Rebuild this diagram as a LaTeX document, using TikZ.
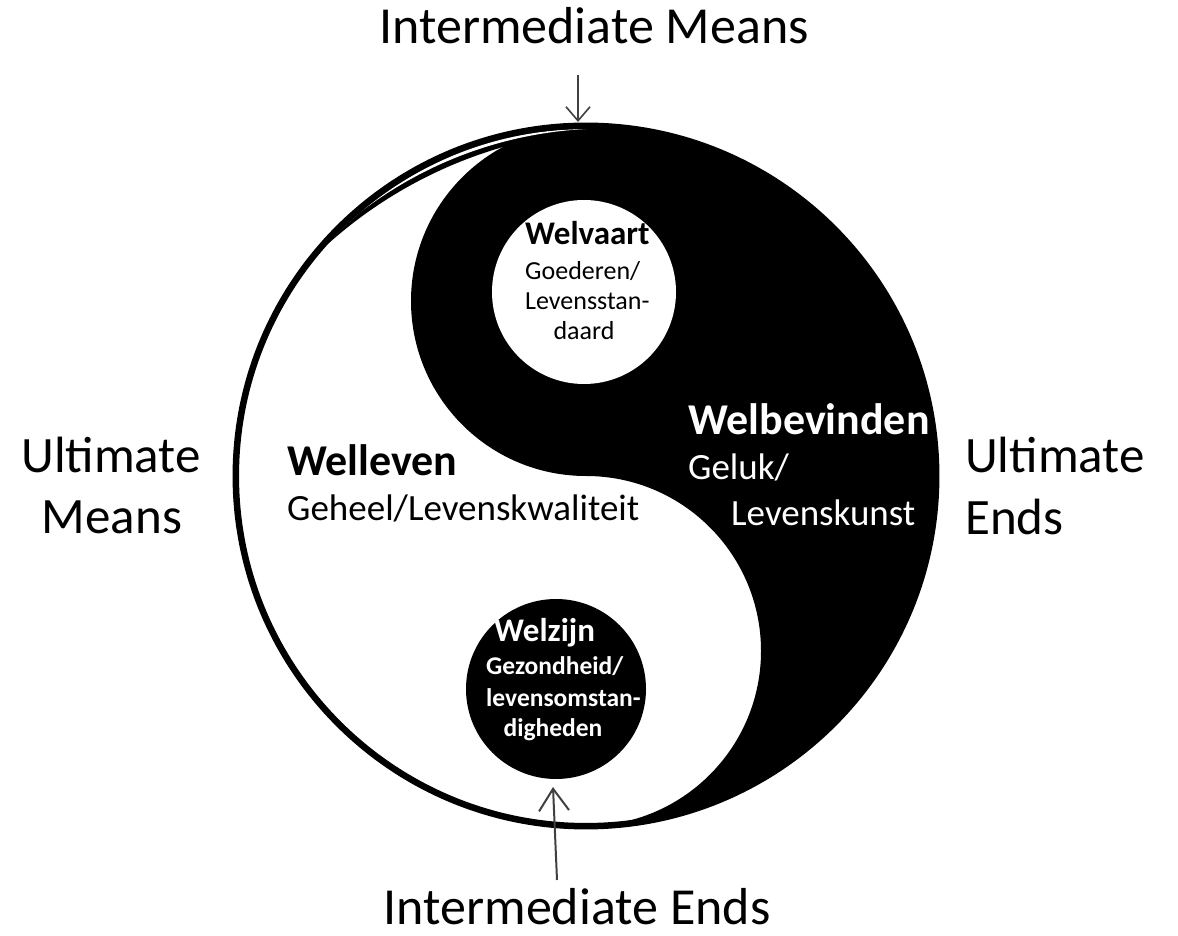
\documentclass[tikz,border=0pt]{standalone}
\usepackage{fontspec}
\setmainfont{Carlito}
\usetikzlibrary{arrows.meta}
\begin{document}
\begin{tikzpicture}[x=1pt,y=1pt,
  outer/.style={font=\fontsize{51}{60}\selectfont, inner sep=0pt},
  inter/.style={font=\fontsize{52}{60}\selectfont, inner sep=0pt},
  head/.style={font=\bfseries\fontsize{44}{52}\selectfont, inner sep=0pt},
  sub/.style={font=\fontsize{37}{44}\selectfont, inner sep=0pt},
  dothead/.style={font=\bfseries\fontsize{33}{38}\selectfont, inner sep=0pt},
  dotsub/.style={font=\fontsize{26}{30}\selectfont, inner sep=0pt},
  dotsubb/.style={font=\bfseries\fontsize{25.5}{30}\selectfont, inner sep=0pt},
  pointer/.style={draw=black!75, line width=1.6pt, -{Straight Barb[length=14pt,width=24pt]}},
]
\useasboundingbox (0,0) rectangle (1178,935);

% black half of the symbol
\fill (586,809) arc[start angle=90,end angle=-90,radius=350]
  arc[start angle=-90,end angle=90,radius=175]
  arc[start angle=-90,end angle=-270,radius=175] -- cycle;

% the two eyes
\fill[white] (584,643) circle[radius=92];
\fill (556,246) circle[radius=90];

% doubled edge at the upper left: a thin black crescent with a white slit
\fill (610.2,805.2) arc[start angle=86,end angle=138,radius=347]
  arc[start angle=131.84,end angle=92.16,radius=448.2] -- cycle;
\fill[white] (586,806) arc[start angle=90,end angle=130,radius=347]
  arc[start angle=127.14,end angle=92.85,radius=402.5] -- cycle;

% outer ring
\draw[line width=6.5pt] (586,459) circle[radius=350.2];

% outer labels
\node[inter,anchor=base] (imeans) at (594,891) {Intermediate Means};
\node[inter,anchor=base] (iends) at (577,11) {Intermediate Ends};
\node[outer,anchor=base] (umeans1) at (111,462) {Ultimate};
\node[outer,anchor=base] (umeans2) at (112,401) {Means};
\node[outer,anchor=base west] (uends1) at (965,462) {Ultimate};
\node[outer,anchor=base west] (uends2) at (965,400) {Ends};

% pointers to the symbol
\coordinate (mtail) at (578,860);
\coordinate (mtip) at (578,813);
\draw[pointer] (mtail) -- (mtip);
\coordinate (etail) at (557,55);
\coordinate (etip) at (553,148);
\draw[pointer,line width=2pt,-{Straight Barb[length=22pt,width=30pt]}] (etail) -- (etip);

% white half
\node[head,anchor=base west] (welleven) at (287,459) {Welleven};
\node[sub,anchor=base west] (geheel) at (287,414) {Geheel/Levenskwaliteit};

% black half
\node[head,anchor=base west,text=white] (welbevinden) at (688,500) {Welbevinden};
\node[sub,anchor=base west,text=white] (geluk) at (688,455) {Geluk/};
\node[sub,anchor=base west,text=white] (kunst) at (731,409) {Levenskunst};

% upper eye
\node[dothead,anchor=base west] (welvaart) at (525,690) {Welvaart};
\node[dotsub,anchor=base west] (goederen) at (525,655) {Goederen/};
\node[dotsub,anchor=base west] (standaard) at (525,625) {Levensstan-};
\node[dotsub,anchor=base] (daard) at (584,595) {daard};

% lower eye
\node[dothead,anchor=base west,text=white] (welzijn) at (494,293) {Welzijn};
\node[dotsubb,anchor=base west,text=white] (gezond) at (486,260) {Gezondheid/};
\node[dotsubb,anchor=base west,text=white] (omstan) at (486,228) {levensomstan-};
\node[dotsubb,anchor=base,text=white] (digheden) at (553,199) {digheden};
\end{tikzpicture}
\end{document}
